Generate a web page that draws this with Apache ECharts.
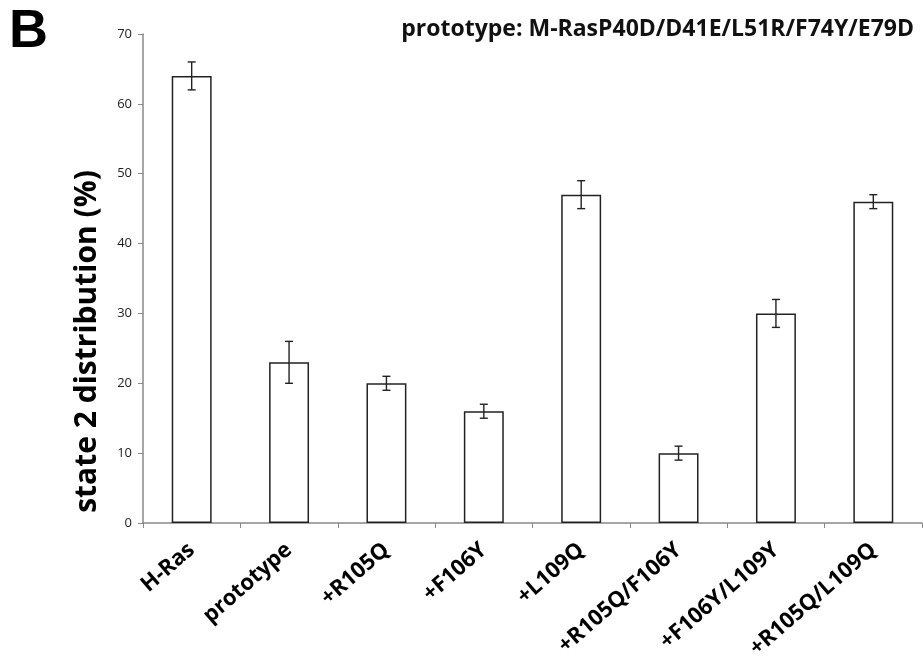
<!DOCTYPE html>
<html>
<head>
<meta charset="utf-8">
<script src="https://cdn.jsdelivr.net/npm/echarts@6/dist/echarts.min.js"></script>
<style>
html, body { margin: 0; padding: 0; background: #fff; }
#main { width: 923px; height: 663px; }
</style>
</head>
<body>
<div id="main"></div>
<script>
// categories and values
var categories = ['H-Ras', 'prototype', '+R105Q', '+F106Y', '+L109Q', '+R105Q/F106Y', '+F106Y/L109Y', '+R105Q/L109Q'];
var state2 = [64, 23, 20, 16, 47, 10, 30, 46];
var errLow = [62, 20, 19, 15, 45, 9, 28, 45];
var errHigh = [66, 26, 21, 17, 49, 11, 32, 47];

var errData = categories.map(function (c, i) { return [i, errLow[i], errHigh[i]]; });

var chart = echarts.init(document.getElementById('main'));

var option = {
    animation: false,
    title: [
        {
            text: 'B',
            left: 4,
            top: 0,
            textStyle: { fontFamily: 'Liberation Sans', fontWeight: 'bold', fontSize: 54, color: '#000' }
        },
        {
            text: 'prototype: M-RasP40D/D41E/L51R/F74Y/E79D',
            right: 4,
            top: 13,
            textStyle: { fontFamily: 'Open Sans', fontWeight: 'bold', fontSize: 23, color: '#111' }
        }
    ],
    grid: { left: 143, right: 1, top: 34, bottom: 140 },
    xAxis: {
        type: 'category',
        data: categories,
        axisLine: { lineStyle: { color: '#888', width: 1.5 } },
        axisTick: { show: true, length: 5, lineStyle: { color: '#888' } },
        axisLabel: {
            rotate: 41,
            margin: 24,
            interval: 0,
            fontFamily: 'Open Sans',
            fontWeight: 'bold',
            fontSize: 22,
            color: '#000'
        }
    },
    yAxis: {
        type: 'value',
        min: 0,
        max: 70,
        interval: 10,
        name: 'state 2 distribution (%)',
        nameLocation: 'middle',
        nameGap: 41,
        nameTextStyle: { fontFamily: 'Open Sans', fontWeight: 'bold', fontSize: 30, color: '#000', padding: [0, 126, 0, 0] },
        splitLine: { show: false },
        axisLine: { show: true, lineStyle: { color: '#888', width: 1.5 } },
        axisTick: { show: true, length: 5, lineStyle: { color: '#888' } },
        axisLabel: { fontFamily: 'Open Sans', fontSize: 13, color: '#222', margin: 11 }
    },
    series: [
        {
            type: 'bar',
            data: state2,
            barWidth: '41%',
            itemStyle: { color: '#fff', borderColor: '#222', borderWidth: 1.5 }
        },
        {
            type: 'custom',
            data: errData,
            z: 10,
            renderItem: function (params, api) {
                var x = api.value(0);
                var lo = api.coord([x, api.value(1)]);
                var hi = api.coord([x, api.value(2)]);
                var w = 4;
                var st = { stroke: '#222', lineWidth: 1.4 };
                return {
                    type: 'group',
                    children: [
                        { type: 'line', shape: { x1: lo[0], y1: lo[1], x2: hi[0], y2: hi[1] }, style: st },
                        { type: 'line', shape: { x1: lo[0] - w, y1: lo[1], x2: lo[0] + w, y2: lo[1] }, style: st },
                        { type: 'line', shape: { x1: hi[0] - w, y1: hi[1], x2: hi[0] + w, y2: hi[1] }, style: st }
                    ]
                };
            }
        }
    ]
};

chart.setOption(option);
</script>
</body>
</html>
